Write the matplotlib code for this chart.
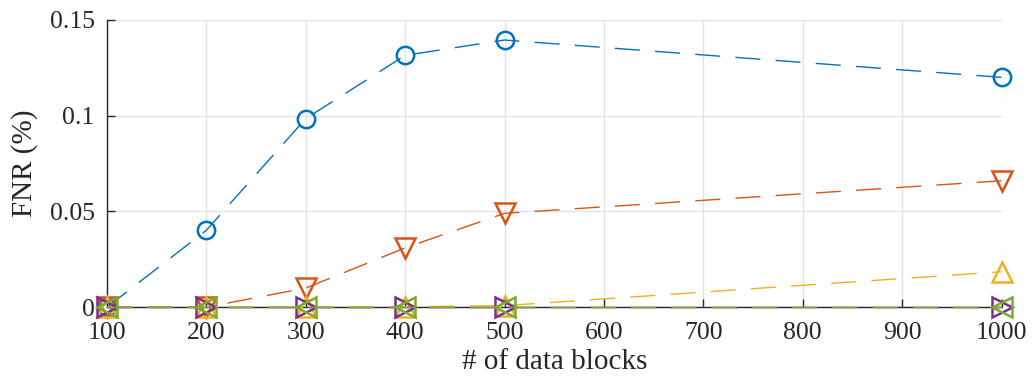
import matplotlib.pyplot as plt
from matplotlib.ticker import FixedLocator

plt.rcParams["font.family"] = ["Liberation Serif", "DejaVu Serif"]

blocks = [100, 200, 300, 400, 500, 1000]
fnr_a = [0.0, 0.0402, 0.0985, 0.1315, 0.1395, 0.1200]
fnr_b = [0.0, 0.0, 0.0100, 0.0310, 0.0490, 0.0660]
fnr_c = [0.0, 0.0, 0.0, 0.0002, 0.0008, 0.0185]
fnr_d = [0.0, 0.0, 0.0, 0.0, 0.0, 0.0]
fnr_e = [0.0, 0.0, 0.0, 0.0, 0.0, 0.0]

x_ticks = [100, 200, 300, 400, 500, 600, 700, 800, 900, 1000]
y_ticks = [0, 0.05, 0.1, 0.15]
y_labels = ["0", "0.05", "0.1", "0.15"]

# values, colour, marker, marker size
series = [
    (fnr_a, "#0072BD", "o", 12.5),
    (fnr_b, "#D95319", "v", 15),
    (fnr_c, "#EDB120", "^", 15),
    (fnr_d, "#7E2F8E", ">", 15),
    (fnr_e, "#77AC30", "<", 15),
]

fig = plt.figure(figsize=(10.33, 3.83), dpi=100)
ax = fig.add_axes([0.1036, 0.198, 0.866, 0.75])

for vals, color, marker, ms in series:
    ax.plot(blocks, vals, color=color, lw=1.0, dashes=(18, 11),
            marker=marker, markersize=ms, markerfacecolor="none",
            markeredgewidth=1.8, clip_on=False, zorder=3)

ax.set_xlim(100, 1000)
ax.set_ylim(0, 0.15)
ax.xaxis.set_major_locator(FixedLocator(x_ticks))
ax.set_xticklabels([str(t) for t in x_ticks])
ax.yaxis.set_major_locator(FixedLocator(y_ticks))
ax.set_yticklabels(y_labels)

ax.grid(True, color="#e3e3e3", lw=1.0, zorder=0)
ax.set_axisbelow(True)
for side in ("top", "right"):
    ax.spines[side].set_visible(False)
for side in ("left", "bottom"):
    ax.spines[side].set_color("#262626")
    ax.spines[side].set_linewidth(1.0)
    ax.spines[side].set_zorder(2)

ax.tick_params(direction="in", length=6, width=1.0, color="#262626",
               labelsize=18.5, labelcolor="#262626")
ax.tick_params(axis="x", pad=11)
ax.tick_params(axis="y", pad=9)
ax.set_xlabel("# of data blocks", fontsize=21, color="#262626", labelpad=3)
ax.set_ylabel("FNR (%)", fontsize=21, color="#262626", labelpad=8)

fig.savefig("out.png", dpi=100)
